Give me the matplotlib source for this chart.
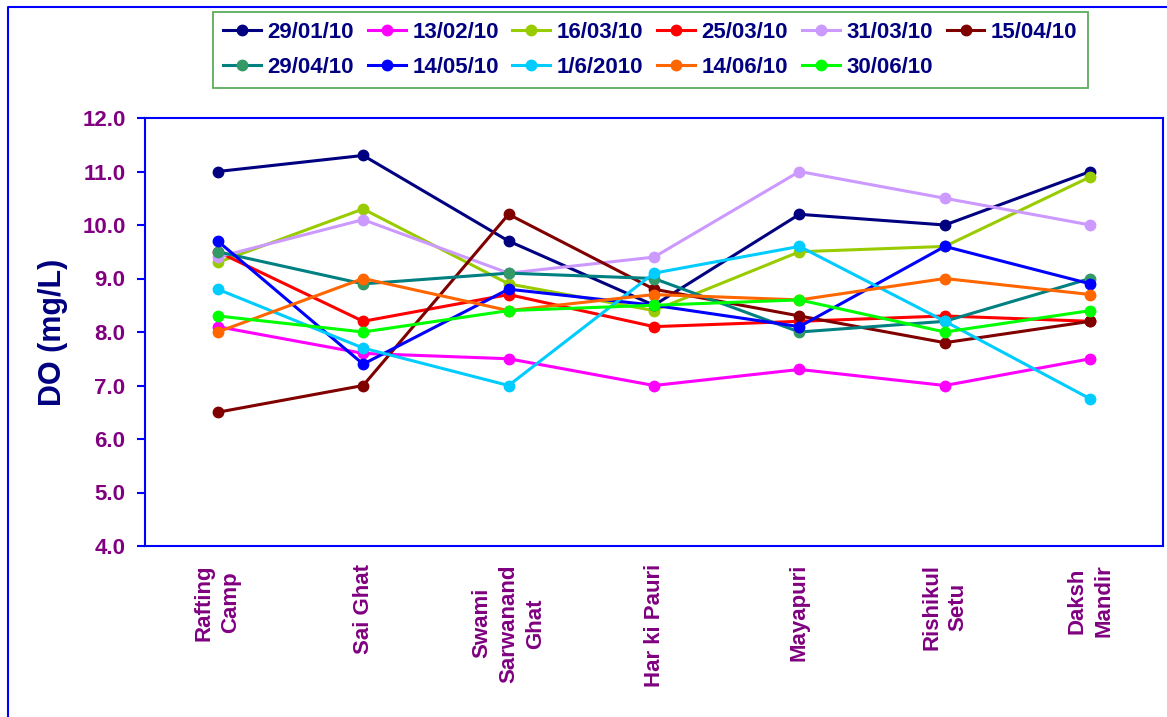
import matplotlib
matplotlib.use("Agg")
import matplotlib.pyplot as plt
from matplotlib.lines import Line2D

plt.rcParams['font.family'] = ['Liberation Sans', 'DejaVu Sans']
plt.rcParams['font.weight'] = 'bold'

sites = ["Rafting\nCamp", "Sai Ghat", "Swami\nSarwanand\nGhat", "Har ki Pauri",
         "Mayapuri", "Rishikul\nSetu", "Daksh\nMandir"]

dates = ["29/01/10", "13/02/10", "16/03/10", "25/03/10", "31/03/10", "15/04/10",
         "29/04/10", "14/05/10", "1/6/2010", "14/06/10", "30/06/10"]

do_290110 = [11.0, 11.3, 9.7, 8.5, 10.2, 10.0, 11.0]
do_130210 = [8.1, 7.6, 7.5, 7.0, 7.3, 7.0, 7.5]
do_160310 = [9.3, 10.3, 8.9, 8.4, 9.5, 9.6, 10.9]
do_250310 = [9.5, 8.2, 8.7, 8.1, 8.2, 8.3, 8.2]
do_310310 = [9.4, 10.1, 9.1, 9.4, 11.0, 10.5, 10.0]
do_150410 = [6.5, 7.0, 10.2, 8.8, 8.3, 7.8, 8.2]
do_290410 = [9.5, 8.9, 9.1, 9.0, 8.0, 8.2, 9.0]
do_140510 = [9.7, 7.4, 8.8, 8.5, 8.1, 9.6, 8.9]
do_010610 = [8.8, 7.7, 7.0, 9.1, 9.6, 8.2, 6.75]
do_140610 = [8.0, 9.0, 8.4, 8.7, 8.6, 9.0, 8.7]
do_300610 = [8.3, 8.0, 8.4, 8.5, 8.6, 8.0, 8.4]

series = [do_290110, do_130210, do_160310, do_250310, do_310310, do_150410,
          do_290410, do_140510, do_010610, do_140610, do_300610]

line_colors = ["#000080", "#FF00FF", "#99CC00", "#FF0000", "#CC99FF", "#800000",
               "#008080", "#0000FF", "#00CCFF", "#FF6600", "#00FF00"]
marker_colors = ["#000080", "#FF00FF", "#99CC00", "#FF0000", "#CC99FF", "#800000",
                 "#339966", "#0000FF", "#00CCFF", "#FF6600", "#00FF00"]

fig = plt.figure(figsize=(11.67, 7.17), dpi=100)
ax = fig.add_axes([145 / 1167, 1 - 546 / 717, 1018 / 1167, 428 / 717])

x = list(range(len(sites)))
handles = []
for vals, lc, mc, lab in zip(series, line_colors, marker_colors, dates):
    h, = ax.plot(x, vals, color=lc, lw=2.2, marker='o', ms=7.5,
                 markerfacecolor=mc, markeredgecolor=mc, label=lab)
    handles.append(h)

ax.set_xlim(-0.5, len(sites) - 0.5)
ax.set_ylim(4.0, 12.0)
ax.set_yticks([4, 5, 6, 7, 8, 9, 10, 11, 12])
ax.set_yticklabels([f"{v:.1f}" for v in range(4, 13)])
ax.set_xticks(x)
ax.set_xticklabels(sites, rotation=90, ha='center', va='top',
                   multialignment='center', linespacing=1.35)

purple = "#800080"
for s in ax.spines.values():
    s.set_color("#0000FF")
    s.set_linewidth(1.5)
ax.tick_params(axis='y', direction='out', length=6, width=1.5, color="#0000FF",
               labelcolor=purple, labelsize=16, pad=8)
ax.tick_params(axis='x', length=0, labelcolor=purple, labelsize=16, pad=13)
for t in ax.get_xticklabels() + ax.get_yticklabels():
    t.set_fontweight('bold')

ax.set_ylabel("DO (mg/L)", fontsize=22, fontweight='bold', color="#000080")
ax.yaxis.set_label_coords(-0.076, 0.5)

# legend reads row by row: 6 entries on the first row, 5 on the second
ncol = 6
nrow = 2
order = []
for c in range(ncol):
    for r in range(nrow):
        i = r * ncol + c
        if i < len(handles):
            order.append(i)
leg = fig.legend(handles=[handles[i] for i in order], loc='upper left',
                 bbox_to_anchor=(213 / 1167, 1 - 12 / 717), ncol=ncol,
                 frameon=True, fancybox=False, edgecolor="#339933",
                 prop={'weight': 'bold', 'size': 16}, handlelength=1.7,
                 handletextpad=0.3, columnspacing=0.62, labelspacing=0.62,
                 borderpad=0.45, borderaxespad=0)
leg.get_frame().set_linewidth(1.3)
for t in leg.get_texts():
    t.set_color("#000080")

# outer chart frame
fig.add_artist(Line2D([8 / 1167, 8 / 1167, 1.0], [0.0, 1 - 7 / 717, 1 - 7 / 717],
                      transform=fig.transFigure, color="#0000FF", lw=1.5))

fig.savefig("out.png", dpi=100, facecolor="white")
